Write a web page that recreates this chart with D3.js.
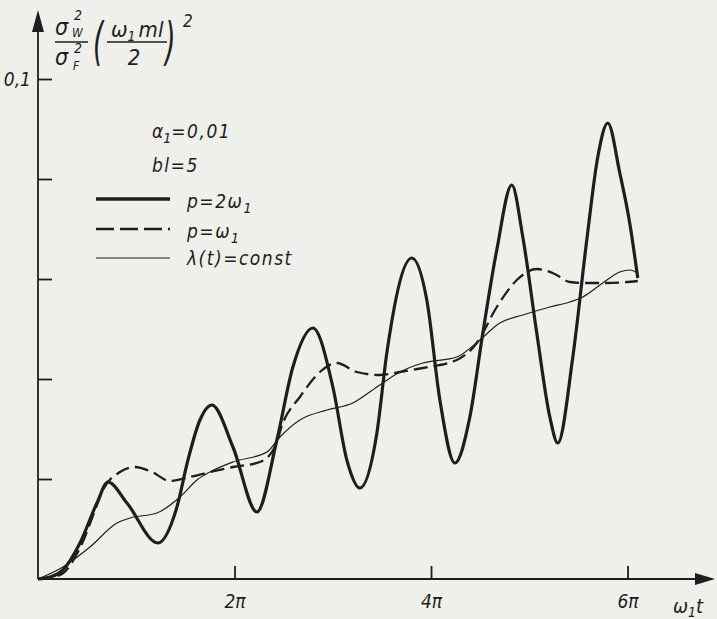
<!DOCTYPE html>
<html>
<head>
<meta charset="utf-8">
<script src="https://cdn.jsdelivr.net/npm/d3@7"></script>
<style>
  html, body { margin: 0; padding: 0; background: #efefec; }
  svg { display: block; }
  text { font-family: "DejaVu Sans Condensed", "DejaVu Sans", sans-serif; font-style: italic; fill: #1e1e1e; }
</style>
</head>
<body>
<svg width="717" height="619"></svg>
<script>
// x in multiples of pi (omega1 * t / pi), y in sigma_w^2/sigma_F^2 (omega1 m l / 2)^2

// p = 2 omega1 (thick)
const thickX = [0, 0.122, 0.254, 0.427, 0.600, 0.712, 0.905, 1.221, 1.414, 1.526, 1.648, 1.770, 1.984, 2.228, 2.431, 2.594, 2.798, 3.001, 3.143, 3.276, 3.449, 3.550, 3.805, 3.957, 4.090, 4.242, 4.395, 4.527, 4.669, 4.822, 4.934, 5.076, 5.209, 5.290, 5.443, 5.585, 5.697, 5.799, 5.921, 6.022, 6.104];
const thickY = [0, 0.0004, 0.0018, 0.0072, 0.0152, 0.0194, 0.0152, 0.0072, 0.0144, 0.0238, 0.0318, 0.0348, 0.0264, 0.0134, 0.0278, 0.0424, 0.0502, 0.0384, 0.0238, 0.0182, 0.0292, 0.0452, 0.0642, 0.0558, 0.0358, 0.0232, 0.0324, 0.0492, 0.0658, 0.0788, 0.0684, 0.0492, 0.0324, 0.0272, 0.0444, 0.0678, 0.0844, 0.0912, 0.0812, 0.0712, 0.0602];

// p = omega1 (dashed)
const dashX = [0, 0.224, 0.427, 0.600, 0.661, 0.834, 0.987, 1.160, 1.343, 1.546, 1.750, 1.984, 2.258, 2.411, 2.492, 2.665, 2.869, 3.042, 3.245, 3.479, 3.683, 3.917, 4.262, 4.466, 4.669, 4.873, 5.076, 5.259, 5.412, 5.544, 5.788, 6.104];
const dashY = [0, 0.0008, 0.0062, 0.0148, 0.0178, 0.0214, 0.0224, 0.0214, 0.0196, 0.0204, 0.0214, 0.0224, 0.0234, 0.0264, 0.0312, 0.0364, 0.0414, 0.0432, 0.0414, 0.0408, 0.0414, 0.0422, 0.0438, 0.0472, 0.0544, 0.0598, 0.0620, 0.0610, 0.0594, 0.0592, 0.0592, 0.0596];

// lambda(t) = const (thin)
const thinX = [0, 0.254, 0.529, 0.804, 0.936, 1.211, 1.445, 1.618, 1.750, 1.984, 2.330, 2.462, 2.665, 2.940, 3.204, 3.449, 3.683, 3.917, 4.262, 4.496, 4.700, 4.934, 5.209, 5.412, 5.544, 5.748, 5.921, 6.022, 6.104];
const thinY = [0, 0.0024, 0.0064, 0.0112, 0.0122, 0.0132, 0.0164, 0.0198, 0.0214, 0.0234, 0.0254, 0.0284, 0.0318, 0.0338, 0.0352, 0.0384, 0.0414, 0.0432, 0.0444, 0.0478, 0.0512, 0.0528, 0.0544, 0.0554, 0.0564, 0.0592, 0.0614, 0.0618, 0.0612];

const xTicks = [2, 4, 6];
const xTickLabels = ['2π', '4π', '6π'];
const yTicks = [0.02, 0.04, 0.06, 0.08, 0.1];
const yTickLabels = ['', '', '', '', '0,1'];

const ink = '#1e1e1e';
const svg = d3.select('svg');
svg.append('rect').attr('width', 717).attr('height', 619).attr('fill', '#efefec');

const x = d3.scaleLinear().domain([0, 6.89]).range([38, 715]);
const y = d3.scaleLinear().domain([0, 0.1138]).range([579, 10]);

// axes lines + arrows
svg.append('line').attr('x1', x(0)).attr('x2', x(0)).attr('y1', y(0)).attr('y2', y(0.1138) + 14)
  .attr('stroke', ink).attr('stroke-width', 1.8);
svg.append('line').attr('x1', x(0)).attr('x2', x(6.89) - 14).attr('y1', y(0)).attr('y2', y(0))
  .attr('stroke', ink).attr('stroke-width', 1.8);
svg.append('path')
  .attr('d', `M${x(0)},${y(0.1138)} L${x(0) - 6},${y(0.1138) + 22} L${x(0) + 6},${y(0.1138) + 22} Z`)
  .attr('fill', ink);
svg.append('path')
  .attr('d', `M${x(6.89)},${y(0)} L${x(6.89) - 20},${y(0) - 6} L${x(6.89) - 20},${y(0) + 6} Z`)
  .attr('fill', ink);

// ticks
const yAxis = svg.append('g').attr('transform', `translate(${x(0)},0)`)
  .call(d3.axisLeft(y).tickValues(yTicks).tickSize(-14).tickPadding(7)
    .tickFormat((d, i) => yTickLabels[i]));
const xAxis = svg.append('g').attr('transform', `translate(0,${y(0)})`)
  .call(d3.axisBottom(x).tickValues(xTicks).tickSize(-13).tickPadding(16)
    .tickFormat((d, i) => xTickLabels[i]));
[yAxis, xAxis].forEach(a => {
  a.attr('font-size', null).attr('font-family', null);
  a.select('.domain').remove();
  a.selectAll('.tick line').attr('stroke', ink).attr('stroke-width', 1.8);
  a.selectAll('.tick text').style('font-size', '19px').attr('fill', ink);
});

// curves
const line = d3.line().x(d => x(d[0])).y(d => y(d[1])).curve(d3.curveMonotoneX);
const zip = (a, b) => a.map((v, i) => [v, b[i]]);

svg.append('path').datum(zip(thinX, thinY)).attr('d', line)
  .attr('fill', 'none').attr('stroke', ink).attr('stroke-width', 1.2);
svg.append('path').datum(zip(dashX, dashY)).attr('d', line)
  .attr('fill', 'none').attr('stroke', ink).attr('stroke-width', 2.3).attr('stroke-dasharray', '14,6');
svg.append('path').datum(zip(thickX, thickY)).attr('d', line)
  .attr('fill', 'none').attr('stroke', ink).attr('stroke-width', 3.2).attr('stroke-linejoin', 'round');

// x axis title
const xt = svg.append('text').attr('x', 673).attr('y', 613).style('font-size', '20px');
xt.append('tspan').text('ω');
xt.append('tspan').attr('dy', 4).style('font-size', '14px').text('1');
xt.append('tspan').attr('dy', -4).text('t');

// y axis title: sigma_w^2 / sigma_F^2 (omega1 m l / 2)^2
const yt = svg.append('g');
yt.append('text').attr('x', 55).attr('y', 35).style('font-size', '23px').text('σ');
yt.append('text').attr('x', 74).attr('y', 20).style('font-size', '14px').text('2');
yt.append('text').attr('x', 72).attr('y', 37).style('font-size', '12px').text('W');
yt.append('line').attr('x1', 55).attr('x2', 88).attr('y1', 42).attr('y2', 42).attr('stroke', ink).attr('stroke-width', 1.6);
yt.append('text').attr('x', 55).attr('y', 65).style('font-size', '23px').text('σ');
yt.append('text').attr('x', 74).attr('y', 53).style('font-size', '14px').text('2');
yt.append('text').attr('x', 73).attr('y', 70).style('font-size', '12px').text('F');
yt.append('text').attr('transform', 'translate(93,59) scale(1,1.7)').style('font-size', '30px').text('(');
const num = yt.append('text').attr('x', 111).attr('y', 37).style('font-size', '22px');
num.append('tspan').text('ω');
num.append('tspan').attr('dy', 4).style('font-size', '14px').text('1');
num.append('tspan').attr('dy', -4).attr('dx', 3).text('ml');
yt.append('line').attr('x1', 107).attr('x2', 167).attr('y1', 42).attr('y2', 42).attr('stroke', ink).attr('stroke-width', 1.6);
yt.append('text').attr('x', 134).attr('y', 65).attr('text-anchor', 'middle').style('font-size', '22px').text('2');
yt.append('text').attr('transform', 'translate(165,59) scale(1,1.7)').style('font-size', '30px').text(')');
yt.append('text').attr('x', 183).attr('y', 27).style('font-size', '17px').text('2');

// parameters
const a1 = svg.append('text').attr('x', 152).attr('y', 138).style('font-size', '19px');
a1.append('tspan').text('α');
a1.append('tspan').attr('dy', 5).style('font-size', '14px').text('1');
a1.append('tspan').attr('dy', -5).text('=0,01').attr('letter-spacing', 1.5);
svg.append('text').attr('x', 152).attr('y', 172).style('font-size', '19px').attr('letter-spacing', 1.5).text('bl=5');

// legend
const legendRows = [
  { y: 199, w: 3.4, dash: null, ty: 208, label: ['p=2ω', '1'] },
  { y: 229, w: 2.3, dash: '18,6', ty: 238, label: ['p=ω', '1'] },
  { y: 258, w: 1.2, dash: null, ty: 265, label: ['λ(t)=const', ''] }
];
legendRows.forEach(r => {
  svg.append('line').attr('x1', 96).attr('x2', 170).attr('y1', r.y).attr('y2', r.y)
    .attr('stroke', ink).attr('stroke-width', r.w).attr('stroke-dasharray', r.dash);
  const t = svg.append('text').attr('x', 187).attr('y', r.ty).style('font-size', '19px').attr('letter-spacing', 1.5);
  t.append('tspan').text(r.label[0]);
  if (r.label[1]) t.append('tspan').attr('dy', 5).style('font-size', '14px').text(r.label[1]);
});
</script>
</body>
</html>
